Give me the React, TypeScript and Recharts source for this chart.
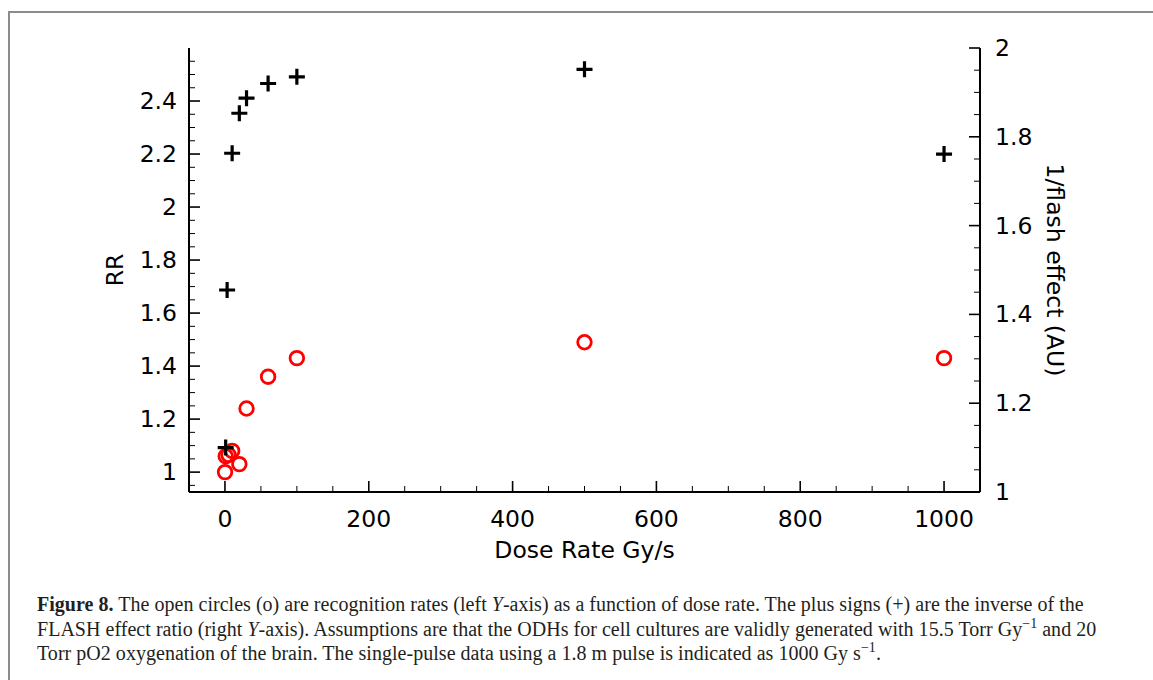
import React from 'react';
import { ScatterChart, Scatter, XAxis, YAxis } from 'recharts';

// open circles: recognition rate (left axis)
const circleDose = [0.1, 1, 5, 10, 20, 30, 60, 100, 500, 1000];
const circleRR = [1.0, 1.06, 1.065, 1.08, 1.03, 1.24, 1.36, 1.43, 1.49, 1.43];

// plus signs: 1/flash effect (right axis)
const plusDose = [1, 3, 10, 20, 30, 60, 100, 500, 1000];
const plusFlash = [1.1, 1.455, 1.763, 1.853, 1.887, 1.92, 1.935, 1.952, 1.761];

// labelled ticks
const xMajor = [0, 200, 400, 600, 800, 1000];
const rrMajor = [1, 1.2, 1.4, 1.6, 1.8, 2, 2.2, 2.4];
const flashMajor = [1, 1.2, 1.4, 1.6, 1.8, 2];

const steps = (a: number, b: number, s: number) =>
    Array.from({ length: Math.round((b - a) / s) + 1 }, (_, i) => +(a + i * s).toFixed(4));

const xTicks = steps(0, 1000, 50);
const rrTicks = steps(0.95, 2.55, 0.05);
const flashTicks = steps(1, 2, 0.05);

const circles = circleDose.map((x, i) => ({ x, y: circleRR[i] }));
const pluses = plusDose.map((x, i) => ({ x, y: plusFlash[i] }));

const isMajor = (v: number, majors: number[]) => majors.some((m) => Math.abs(m - v) < 1e-6);

const font = '"DejaVu Sans", sans-serif';
const FS = 23.5;
const MAJ = 11;
const MIN = 6;

const BottomTick = (props: any) => {
    const { x, y, payload } = props;
    const v = payload.value;
    const major = isMajor(v, xMajor);
    const y0 = y - 12;
    return (
        <g>
            <line x1={x} x2={x} y1={y0} y2={y0 - (major ? MAJ : MIN)} stroke="#000" strokeWidth={major ? 1.6 : 1} />
            {major && (
                <text x={x} y={y0 + 35} textAnchor="middle" fontSize={FS} fontFamily={font} fill="#000">
                    {v}
                </text>
            )}
        </g>
    );
};

const TopTick = (props: any) => {
    const { x, y, payload } = props;
    const major = isMajor(payload.value, xMajor);
    return <line x1={x} x2={x} y1={y} y2={y + (major ? MAJ : MIN)} stroke="#000" strokeWidth={major ? 1.6 : 1} />;
};

const LeftTick = (props: any) => {
    const { x, y, payload } = props;
    const v = payload.value;
    const major = isMajor(v, rrMajor);
    const x0 = x + 12;
    return (
        <g>
            <line x1={x0} x2={x0 + (major ? MAJ : MIN)} y1={y} y2={y} stroke="#000" strokeWidth={major ? 1.6 : 1} />
            {major && (
                <text x={x} y={y + 8} textAnchor="end" fontSize={FS} fontFamily={font} fill="#000">
                    {v}
                </text>
            )}
        </g>
    );
};

const RightTick = (props: any) => {
    const { x, y, payload } = props;
    const v = payload.value;
    const major = isMajor(v, flashMajor);
    const x0 = x - 15;
    return (
        <g>
            <line x1={x0} x2={x0 - (major ? MAJ : MIN)} y1={y} y2={y} stroke="#000" strokeWidth={major ? 1.6 : 1} />
            {major && (
                <text x={x} y={y + 8} textAnchor="start" fontSize={FS} fontFamily={font} fill="#000">
                    {v}
                </text>
            )}
        </g>
    );
};

const OpenCircle = (props: any) => (
    <circle cx={props.cx} cy={props.cy} r={6.8} fill="none" stroke="#ff0000" strokeWidth={2.8} />
);

const Plus = (props: any) => {
    const { cx, cy } = props;
    return <path d={`M${cx - 8},${cy}H${cx + 8}M${cx},${cy - 8}V${cy + 8}`} stroke="#000" strokeWidth={3.2} />;
};

const axisLine = { stroke: '#000', strokeWidth: 2 };

const App: React.FC = () => {
    return (
        <div style={{ position: 'absolute', left: 0, top: 0, width: 1153, height: 680, overflow: 'hidden', background: '#fff' }}>
            <div
                style={{
                    position: 'absolute',
                    left: 8,
                    top: 11,
                    width: 1143,
                    height: 667,
                    borderLeft: '2px solid #8c8c8c',
                    borderTop: '2px solid #8c8c8c',
                }}
            />
            <div style={{ position: 'absolute', left: 0, top: 0 }}>
                <ScatterChart width={1153} height={600} margin={{ top: 48, right: 93, bottom: 48, left: 109 }}>
                    <XAxis
                        xAxisId="bottom"
                        dataKey="x"
                        type="number"
                        domain={[-50, 1050]}
                        allowDataOverflow
                        ticks={xTicks}
                        interval={0}
                        height={60}
                        tickSize={0}
                        tickMargin={12}
                        tickLine={false}
                        axisLine={axisLine}
                        tick={<BottomTick />}
                        label={{
                            content: ({ viewBox }: any) => (
                                <text
                                    x={viewBox.x + viewBox.width / 2}
                                    y={viewBox.y + 66}
                                    textAnchor="middle"
                                    fontSize={FS}
                                    fontFamily={font}
                                    fill="#000"
                                >
                                    Dose Rate Gy/s
                                </text>
                            ),
                        }}
                    />
                    <XAxis
                        xAxisId="top"
                        orientation="top"
                        dataKey="x"
                        type="number"
                        domain={[-50, 1050]}
                        allowDataOverflow
                        ticks={xTicks}
                        interval={0}
                        height={0}
                        tickSize={0}
                        tickMargin={0}
                        tickLine={false}
                        axisLine={axisLine}
                        tick={<TopTick />}
                    />
                    <YAxis
                        yAxisId="left"
                        dataKey="y"
                        type="number"
                        domain={[0.925, 2.6]}
                        allowDataOverflow
                        ticks={rrTicks}
                        interval={0}
                        width={80}
                        tickSize={0}
                        tickMargin={12}
                        tickLine={false}
                        axisLine={axisLine}
                        tick={<LeftTick />}
                        label={{
                            content: ({ viewBox }: any) => {
                                const cx = viewBox.x + 6;
                                const cy = viewBox.y + viewBox.height / 2;
                                return (
                                    <text
                                        x={cx}
                                        y={cy}
                                        transform={`rotate(-90, ${cx}, ${cy})`}
                                        textAnchor="middle"
                                        dominantBaseline="central"
                                        fontSize={FS}
                                        fontFamily={font}
                                        fill="#000"
                                    >
                                        RR
                                    </text>
                                );
                            },
                        }}
                    />
                    <YAxis
                        yAxisId="right"
                        orientation="right"
                        dataKey="y"
                        type="number"
                        domain={[1, 2]}
                        allowDataOverflow
                        ticks={flashTicks}
                        interval={0}
                        width={80}
                        tickSize={0}
                        tickMargin={15}
                        tickLine={false}
                        axisLine={axisLine}
                        tick={<RightTick />}
                        label={{
                            content: ({ viewBox }: any) => {
                                const cx = viewBox.x + 75;
                                const cy = viewBox.y + viewBox.height / 2;
                                return (
                                    <text
                                        x={cx}
                                        y={cy}
                                        transform={`rotate(90, ${cx}, ${cy})`}
                                        textAnchor="middle"
                                        dominantBaseline="central"
                                        fontSize={FS}
                                        fontFamily={font}
                                        fill="#000"
                                    >
                                        1/flash effect (AU)
                                    </text>
                                );
                            },
                        }}
                    />
                    <Scatter
                        name="RR"
                        data={circles}
                        xAxisId="bottom"
                        yAxisId="left"
                        shape={<OpenCircle />}
                        isAnimationActive={false}
                    />
                    <Scatter
                        name="1/flash"
                        data={pluses}
                        xAxisId="bottom"
                        yAxisId="right"
                        shape={<Plus />}
                        isAnimationActive={false}
                    />
                </ScatterChart>
            </div>
            <div
                style={{
                    position: 'absolute',
                    left: 37,
                    top: 592,
                    fontFamily: '"Liberation Serif", serif',
                    fontSize: 20,
                    letterSpacing: 0.03,
                    lineHeight: '24.5px',
                    color: '#231f20',
                    whiteSpace: 'nowrap',
                }}
            >
                <div>
                    <b>Figure 8.</b> The open circles (o) are recognition rates (left <i>Y</i>-axis) as a function of dose
                    rate. The plus signs (+) are the inverse of the
                </div>
                <div>
                    FLASH effect ratio (right <i>Y</i>-axis). Assumptions are that the ODHs for cell cultures are validly
                    generated with 15.5 Torr Gy<sup style={{ fontSize: 14, lineHeight: 0 }}>−1</sup> and 20
                </div>
                <div>
                    Torr pO2 oxygenation of the brain. The single-pulse data using a 1.8 m pulse is indicated as 1000 Gy
                    s<sup style={{ fontSize: 14, lineHeight: 0 }}>−1</sup>.
                </div>
            </div>
        </div>
    );
};

export default App;
